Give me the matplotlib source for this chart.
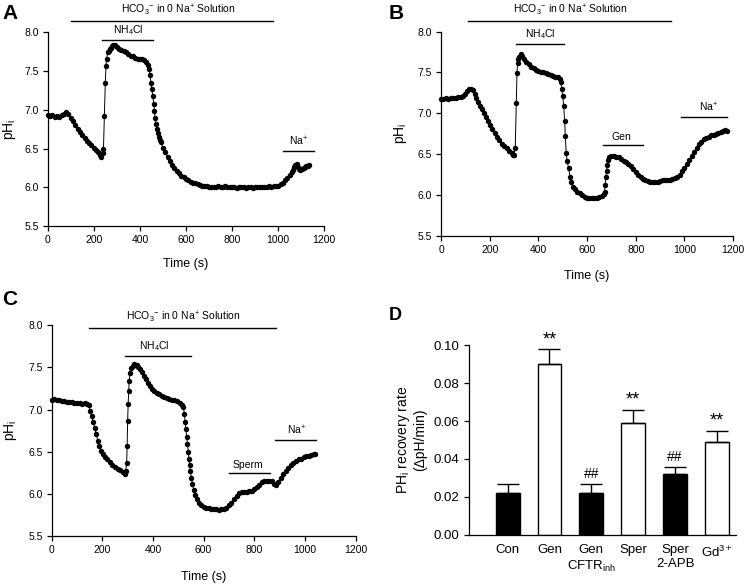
import numpy as np
import matplotlib
matplotlib.use('Agg')
from matplotlib import pyplot as plt

plt.rcParams['font.family'] = ['Liberation Sans', 'DejaVu Sans']
plt.rcParams['mathtext.fontset'] = 'custom'
plt.rcParams['mathtext.rm'] = 'Liberation Sans'
plt.rcParams['mathtext.it'] = 'Liberation Sans:italic'
plt.rcParams['mathtext.bf'] = 'Liberation Sans:bold'

# panel A trace (time s, pHi)
a_t = [0, 10, 20, 30, 40, 50, 60, 70, 80, 90, 100, 110, 120, 130, 140, 150, 160, 170, 180, 190,
       200, 210, 220, 228, 233, 238, 242, 246, 250, 253, 256, 260, 265, 270, 275, 280, 285, 290,
       300, 310, 320, 330, 340, 350, 360, 370, 380, 390, 400, 410, 420, 428, 434, 440, 444, 448,
       452, 456, 460, 463, 466, 470, 474, 478, 482, 486, 490, 500, 510, 520, 530, 540, 550, 560,
       570, 580, 590, 600, 610, 620, 630, 640, 650, 660, 670, 680, 690, 700, 710, 720, 730, 740,
       750, 760, 770, 780, 790, 800, 810, 820, 830, 840, 850, 860, 870, 880, 890, 900, 910, 920,
       930, 940, 950, 960, 970, 980, 990, 1000, 1010, 1020, 1030, 1040, 1050, 1060, 1065, 1070,
       1075, 1080, 1085, 1090, 1095, 1100, 1105, 1110, 1115, 1120, 1125, 1130, 1135]
a_ph = [6.93, 6.92, 6.93, 6.91, 6.92, 6.91, 6.93, 6.95, 6.97, 6.94, 6.90, 6.85, 6.80, 6.75, 6.71,
        6.68, 6.64, 6.60, 6.57, 6.54, 6.51, 6.48, 6.46, 6.42, 6.39, 6.44, 6.50, 6.92, 7.35, 7.57,
        7.66, 7.74, 7.76, 7.78, 7.80, 7.82, 7.83, 7.83, 7.81, 7.79, 7.77, 7.76, 7.74, 7.72, 7.70,
        7.69, 7.67, 7.66, 7.66, 7.65, 7.64, 7.62, 7.58, 7.52, 7.45, 7.35, 7.27, 7.18, 7.08, 6.98,
        6.90, 6.82, 6.75, 6.70, 6.65, 6.61, 6.58, 6.51, 6.45, 6.39, 6.34, 6.29, 6.25, 6.21, 6.18,
        6.15, 6.13, 6.11, 6.09, 6.07, 6.06, 6.05, 6.04, 6.03, 6.02, 6.02, 6.01, 6.00, 6.00, 6.00,
        6.00, 6.01, 6.00, 6.00, 6.01, 6.00, 6.00, 6.00, 6.00, 5.99, 6.00, 6.00, 6.00, 5.99, 6.00,
        6.00, 5.99, 6.00, 6.00, 6.00, 6.00, 6.00, 6.00, 6.01, 6.00, 6.01, 6.01, 6.02, 6.04, 6.06,
        6.09, 6.12, 6.16, 6.20, 6.22, 6.26, 6.29, 6.30, 6.26, 6.23, 6.22, 6.23, 6.24, 6.25, 6.26,
        6.27, 6.28, 6.28, 6.29]

# panel B trace
b_t = [0, 10, 20, 30, 40, 50, 60, 70, 80, 90, 100, 108, 115, 122, 130, 138, 145, 152, 160, 168,
       176, 184, 192, 200, 210, 220, 230, 240, 250, 260, 270, 280, 290, 296, 300, 305, 309, 312,
       315, 318, 322, 328, 334, 340, 350, 360, 370, 380, 390, 400, 410, 420, 430, 440, 450, 460,
       470, 480, 487, 492, 496, 500, 504, 508, 511, 514, 518, 524, 530, 535, 542, 550, 560, 570,
       580, 590, 600, 610, 620, 630, 640, 650, 660, 668, 672, 674, 677, 680, 683, 687, 692, 700,
       710, 720, 730, 740, 750, 760, 770, 780, 790, 800, 810, 820, 830, 840, 850, 860, 870, 880,
       890, 900, 910, 920, 930, 940, 950, 960, 970, 980, 990, 1000, 1010, 1020, 1030, 1040, 1050,
       1060, 1070, 1080, 1090, 1100, 1110, 1120, 1130, 1140, 1150, 1160, 1168, 1175]
b_ph = [7.17, 7.18, 7.19, 7.18, 7.19, 7.19, 7.19, 7.20, 7.20, 7.21, 7.23, 7.27, 7.30, 7.30, 7.28,
        7.24, 7.19, 7.14, 7.09, 7.05, 7.00, 6.95, 6.90, 6.86, 6.81, 6.76, 6.71, 6.67, 6.63, 6.60,
        6.57, 6.54, 6.51, 6.49, 6.49, 6.58, 7.13, 7.49, 7.62, 7.66, 7.69, 7.72, 7.70, 7.67, 7.63,
        7.60, 7.57, 7.55, 7.53, 7.52, 7.51, 7.50, 7.49, 7.48, 7.47, 7.46, 7.45, 7.44, 7.42, 7.38,
        7.30, 7.21, 7.09, 6.90, 6.72, 6.52, 6.42, 6.33, 6.22, 6.16, 6.10, 6.07, 6.04, 6.02, 6.00,
        5.98, 5.97, 5.96, 5.96, 5.96, 5.97, 5.98, 5.99, 6.01, 6.04, 6.12, 6.22, 6.30, 6.37, 6.43,
        6.46, 6.48, 6.48, 6.47, 6.46, 6.44, 6.42, 6.40, 6.38, 6.35, 6.32, 6.28, 6.25, 6.22, 6.20,
        6.18, 6.17, 6.16, 6.16, 6.16, 6.16, 6.17, 6.18, 6.18, 6.19, 6.19, 6.20, 6.21, 6.22, 6.25,
        6.29, 6.33, 6.38, 6.43, 6.48, 6.53, 6.58, 6.62, 6.65, 6.68, 6.70, 6.71, 6.73, 6.74, 6.75,
        6.76, 6.77, 6.78, 6.79, 6.78]

# panel C trace
c_t = [0, 10, 20, 30, 40, 50, 60, 70, 80, 90, 100, 110, 120, 130, 140, 146, 152, 158, 164, 170,
       176, 182, 188, 196, 204, 212, 220, 230, 240, 250, 260, 270, 280, 288, 292, 296, 298, 300,
       302, 304, 306, 309, 313, 320, 327, 335, 342, 350, 358, 366, 374, 382, 390, 398, 406, 415,
       425, 435, 445, 455, 465, 475, 485, 495, 505, 515, 520, 524, 527, 530, 533, 536, 539, 542,
       545, 548, 552, 556, 561, 566, 572, 580, 590, 600, 610, 620, 630, 640, 650, 660, 670, 680,
       690, 700, 710, 720, 730, 740, 750, 760, 770, 780, 790, 800, 810, 820, 830, 840, 850, 860,
       870, 880, 887, 895, 905, 915, 925, 935, 945, 955, 965, 975, 985, 995, 1005, 1015, 1025,
       1035, 1040]
c_ph = [7.11, 7.13, 7.12, 7.11, 7.10, 7.10, 7.09, 7.09, 7.09, 7.08, 7.08, 7.08, 7.07, 7.08, 7.07,
        7.05, 6.98, 6.92, 6.85, 6.78, 6.71, 6.63, 6.57, 6.51, 6.47, 6.44, 6.41, 6.38, 6.35, 6.32,
        6.30, 6.28, 6.26, 6.24, 6.27, 6.37, 6.57, 6.87, 7.07, 7.22, 7.34, 7.43, 7.49, 7.52, 7.54,
        7.53, 7.51, 7.48, 7.45, 7.40, 7.36, 7.32, 7.28, 7.25, 7.22, 7.20, 7.18, 7.16, 7.15, 7.14,
        7.13, 7.12, 7.11, 7.10, 7.08, 7.06, 7.03, 6.95, 6.86, 6.77, 6.68, 6.59, 6.50, 6.42, 6.34,
        6.27, 6.19, 6.12, 6.05, 5.99, 5.94, 5.90, 5.87, 5.85, 5.84, 5.83, 5.82, 5.82, 5.82, 5.81,
        5.82, 5.82, 5.84, 5.87, 5.90, 5.94, 5.98, 6.01, 6.02, 6.03, 6.03, 6.04, 6.04, 6.06, 6.08,
        6.11, 6.14, 6.15, 6.15, 6.16, 6.15, 6.12, 6.11, 6.14, 6.19, 6.24, 6.27, 6.31, 6.34, 6.37,
        6.39, 6.41, 6.42, 6.44, 6.45, 6.45, 6.46, 6.47, 6.48]

# solution bars: (start, end, y, label, label x)
hco3 = r'HCO$_\mathregular{3}{}^\mathregular{-}$ in 0 Na$^\mathregular{+}$ Solution'
nh4cl = r'NH$_\mathregular{4}$Cl'
na = r'Na$^\mathregular{+}$'
a_bars = [(100, 976, 8.15, hco3, 566), (237, 457, 7.90, nh4cl, 350), (1019, 1157, 6.47, na, 1087)]
b_bars = [(109, 943, 8.13, hco3, 531), (309, 506, 7.85, nh4cl, 407), (667, 831, 6.61, 'Gen', 742),
          (986, 1177, 6.96, na, 1098)]
c_bars = [(146, 885, 7.97, hco3, 520), (289, 552, 7.64, nh4cl, 405), (699, 863, 6.25, 'Sperm', 776),
          (882, 1045, 6.64, na, 966)]

# panel D
groups = ['Con', 'Gen', 'Gen\nCFTR$_\\mathregular{inh}$', 'Sper', 'Sper\n2-APB', 'Gd$^\\mathregular{3+}$']
rates = [0.022, 0.090, 0.022, 0.059, 0.032, 0.049]
sem = [0.005, 0.008, 0.005, 0.007, 0.004, 0.006]
fills = ['black', 'white', 'black', 'white', 'black', 'white']
marks = ['', '**', '##', '**', '##', '**']

fig = plt.figure(figsize=(7.45, 5.84), dpi=100)


def trace_panel(rect, t, ph, bars, ylab_x):
    ax = fig.add_axes(rect)
    ax.plot(t, ph, color='k', lw=0.7, marker='o', ms=3.9, mew=0, mfc='k', clip_on=False)
    ax.set_xlim(0, 1200)
    ax.set_ylim(5.5, 8.0)
    ax.set_xticks(np.arange(0, 1201, 200))
    ax.set_yticks(np.arange(5.5, 8.01, 0.5))
    ax.yaxis.set_major_formatter(plt.FormatStrFormatter('%.1f'))
    ax.spines[['top', 'right']].set_visible(False)
    for s in ['left', 'bottom']:
        ax.spines[s].set_linewidth(0.9)
    ax.tick_params(direction='out', length=3.5, width=0.9, labelsize=7.5, pad=3)
    ax.set_xlabel('Time (s)', fontsize=9)
    ax.set_ylabel(r'pH$_\mathregular{i}$', fontsize=10)
    ax.xaxis.set_label_coords(0.5, -0.165)
    ax.yaxis.set_label_coords(ylab_x, 0.5)
    for t0, t1, y, lab, tx in bars:
        ax.plot([t0, t1], [y, y], color='k', lw=1.0, clip_on=False)
        ax.annotate(lab, xy=(tx, y), xytext=(0, 2), textcoords='offset points',
                    ha='center', va='bottom', fontsize=7.5, annotation_clip=False)
    return ax


trace_panel([0.064, 0.613, 0.3713, 0.3317], a_t, a_ph, a_bars, -0.107)
trace_panel([0.592, 0.596, 0.392, 0.350], b_t, b_ph, b_bars, -0.11)
trace_panel([0.0694, 0.0817, 0.4078, 0.3613], c_t, c_ph, c_bars, -0.109)

axd = fig.add_axes([0.629, 0.0844, 0.3588, 0.3243])
x = np.arange(len(groups))
axd.bar(x, rates, width=0.57, color=fills, edgecolor='k', linewidth=1.0, zorder=2)
axd.errorbar(x, rates, yerr=[np.zeros(len(sem)), sem], fmt='none', ecolor='k',
             elinewidth=1.0, capsize=8, capthick=1.0, zorder=3)
for xi, r, e, m in zip(x, rates, sem, marks):
    if m == '**':
        axd.text(xi, r + e + 0.0005, m, ha='center', va='bottom', fontsize=13)
    elif m:
        axd.text(xi, r + e + 0.0012, m, ha='center', va='bottom', fontsize=10)
axd.set_xlim(-0.93, 5.45)
axd.set_ylim(0, 0.10)
axd.set_yticks(np.arange(0, 0.101, 0.02))
axd.yaxis.set_major_formatter(plt.FormatStrFormatter('%.2f'))
axd.set_xticks(x)
axd.set_xticklabels(groups)
axd.spines[['top', 'right']].set_visible(False)
for s in ['left', 'bottom']:
    axd.spines[s].set_linewidth(0.9)
axd.tick_params(axis='y', direction='out', length=3.5, width=0.9, labelsize=9.5)
axd.tick_params(axis='x', length=0, labelsize=9.5, pad=7)
axd.set_ylabel('PH$_\\mathregular{i}$ recovery rate\n(\u0394pH/min)', fontsize=10, linespacing=1.1)
axd.yaxis.set_label_coords(-0.156, 0.5)

fig.text(0.003, 0.993, 'A', fontsize=15, fontweight='bold', va='top')
fig.text(0.522, 0.993, 'B', fontsize=15, fontweight='bold', va='top')
fig.text(0.003, 0.503, 'C', fontsize=15, fontweight='bold', va='top')
fig.text(0.522, 0.474, 'D', fontsize=13, fontweight='bold', va='top')

fig.savefig('out.png', dpi=100)
